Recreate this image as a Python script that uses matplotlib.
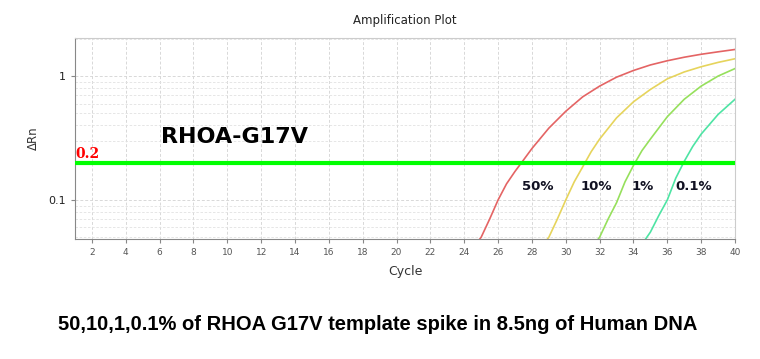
import numpy as np
import matplotlib.pyplot as plt
from matplotlib.ticker import LogLocator, NullFormatter, FixedLocator

# amplification curves (cycle, delta Rn)
cyc_50 = [24.9, 25, 25.5, 26, 26.5, 27, 27.5, 28, 29, 30, 31, 32, 33, 34, 35, 36, 37, 38, 39, 40]
rn_50 = [0.048, 0.05, 0.07, 0.10, 0.135, 0.17, 0.21, 0.26, 0.38, 0.52, 0.68, 0.83, 0.98, 1.11, 1.23, 1.33, 1.42, 1.50, 1.57, 1.64]

cyc_10 = [28.9, 29, 29.5, 30, 30.5, 31, 31.5, 32, 33, 34, 35, 36, 37, 38, 39, 40]
rn_10 = [0.048, 0.05, 0.07, 0.10, 0.14, 0.185, 0.245, 0.31, 0.46, 0.62, 0.78, 0.95, 1.08, 1.19, 1.29, 1.38]

cyc_1 = [31.9, 32, 32.5, 33, 33.5, 34, 34.5, 35, 36, 37, 38, 39, 40]
rn_1 = [0.048, 0.05, 0.07, 0.095, 0.14, 0.19, 0.25, 0.31, 0.47, 0.65, 0.83, 1.00, 1.15]

cyc_01 = [34.7, 35, 35.5, 36, 36.5, 37, 37.5, 38, 39, 40]
rn_01 = [0.048, 0.055, 0.075, 0.10, 0.15, 0.205, 0.27, 0.34, 0.49, 0.65]

labels = ['50%', '10%', '1%', '0.1%']
label_x = [27.4, 30.85, 33.9, 36.45]
colors = ['#e46464', '#e6d45c', '#96e05c', '#4ee4a4']
threshold = 0.2

fig = plt.figure(figsize=(7.6, 3.59), dpi=100)
ax = fig.add_axes([75/760, 1-239/359, 660/760, 201/359])

for cx, rn, c in zip([cyc_50, cyc_10, cyc_1, cyc_01], [rn_50, rn_10, rn_1, rn_01], colors):
    ax.plot(cx, rn, color=c, lw=1.2)

ax.axhline(threshold, color='#00ff00', lw=3, zorder=5)

ax.set_yscale('log')
ax.set_xlim(1, 40)
ax.set_ylim(0.0484, 2.03)
ax.xaxis.set_major_locator(FixedLocator(np.arange(2, 41, 2)))
ax.yaxis.set_major_locator(FixedLocator([0.1, 1]))
ax.yaxis.set_major_formatter(plt.FixedFormatter(['0.1', '1']))
ax.yaxis.set_minor_locator(LogLocator(base=10, subs=np.arange(2, 10)))
ax.yaxis.set_minor_formatter(NullFormatter())
ax.tick_params(axis='y', which='minor', length=0)
ax.tick_params(axis='both', which='major', labelsize=6.5, labelcolor='#555555',
               color='#888888', length=3)
ax.tick_params(axis='y', labelsize=8, labelcolor='#222222')

ax.grid(True, which='major', color='#d8d8d8', ls=(0, (3, 2)), lw=0.7)
ax.grid(True, which='minor', axis='y', color='#e2e2e2', ls=(0, (3, 2)), lw=0.6)
ax.set_axisbelow(True)

for side in ['left', 'bottom']:
    ax.spines[side].set_color('#888888')
for side in ['top', 'right']:
    ax.spines[side].set_color('#cccccc')

ax.set_title('Amplification Plot', fontsize=8.5, color='#222222', pad=10)
ax.set_xlabel('Cycle', fontsize=9, color='#333333', labelpad=6)
ax.set_ylabel('ΔRn', fontsize=8.5, color='#333333', labelpad=6)

ax.text(1.0, threshold * 1.03, '0.2', color='red', fontsize=10, fontweight='bold',
        family='DejaVu Serif', va='bottom', ha='left', zorder=6)
ax.text(0.13, 0.507, 'RHOA-G17V', transform=ax.transAxes, fontsize=16,
        fontweight='bold', color='black', ha='left', va='center')

for lab, lx in zip(labels, label_x):
    ax.text(lx, 0.128, lab, fontsize=9.5, fontweight='bold', color='#111122',
            ha='left', va='center')

fig.text(58/760, 1-325/359, '50,10,1,0.1% of RHOA G17V template spike in 8.5ng of Human DNA',
         fontsize=14.5, family='Liberation Sans', fontweight='bold',
         color='black', ha='left', va='center')

fig.savefig('out.png', dpi=100)
